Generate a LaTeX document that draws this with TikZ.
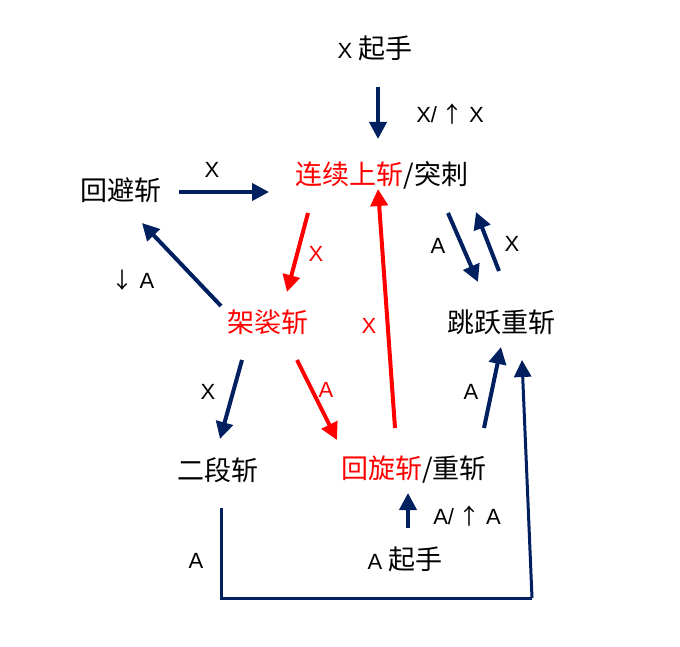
\documentclass[tikz,border=0pt]{standalone}
\usepackage{fontspec}
\setmainfont{Liberation Sans}
\newfontfamily\cjk{Noto Sans CJK SC}
\usetikzlibrary{arrows.meta}
\definecolor{navy}{RGB}{0,32,96}
\definecolor{myred}{RGB}{255,0,0}
\newcommand{\zhs}{\cjk\fontsize{27}{30}\selectfont}
\newcommand{\uparr}{{\cjk\fontsize{22}{24}\selectfont\kern-4pt↑\kern-4pt}}
\newcommand{\dnarr}{{\cjk\fontsize{22}{24}\selectfont\kern-4pt↓\kern-4pt}}
\begin{document}
\begin{tikzpicture}[x=1pt,y=-1pt,
  zh/.style={inner sep=0pt,font=\zhs},
  lat/.style={inner sep=0pt,font=\fontsize{22}{24}\selectfont},
  arr/.style={line width=4pt,-{Triangle[length=17pt,width=17pt]}},
  nv/.style={arr,draw=navy,fill=navy},
  rd/.style={arr,draw=myred,fill=myred},
  thin/.style={line width=3pt,draw=navy}]
\useasboundingbox (0,0) rectangle (680,647);
% text nodes
\node[lat] (xstart) at (375,48) {X {\zhs 起手}};
\node[zh] (lxsc) at (382,175) {\textcolor{myred}{连续上斩}/突刺};
\node[zh] (hbz) at (121,190) {回避斩};
\node[zh,text=myred] (jsz) at (268,322) {架裟斩};
\node[zh] (tyzz) at (501,322) {跳跃重斩};
\node[zh] (edz) at (218,470) {二段斩};
\node[zh] (hxz) at (414,470) {\textcolor{myred}{回旋斩}/重斩};
\node[lat] (astart) at (405,559) {A {\zhs 起手}};
% labels
\node[lat] (l1) at (450,114) {X/\hspace{8pt}\uparr\hspace{10pt}X};
\node[lat] (l2) at (212,170) {X};
\node[lat,text=myred] (l3) at (316,254) {X};
\node[lat] (l4) at (135,280) {\dnarr\hspace{10pt}A};
\node[lat,text=myred] (l5) at (369,326) {X};
\node[lat] (l6) at (438,246) {A};
\node[lat] (l7) at (512,244) {X};
\node[lat] (l8) at (208,392) {X};
\node[lat,text=myred] (l9) at (326,390) {A};
\node[lat] (l10) at (471,392) {A};
\node[lat] (l11) at (467,516) {A/\hspace{8pt}\uparr\hspace{10pt}A};
\node[lat] (l12) at (196,561) {A};
% connector end points
\coordinate (a1s) at (378,87);   \coordinate (a1e) at (378,139);
\coordinate (a2s) at (179,192);  \coordinate (a2e) at (269,192);
\coordinate (a3s) at (308,213);  \coordinate (a3e) at (287,292);
\coordinate (a4s) at (221,306);  \coordinate (a4e) at (142,223);
\coordinate (a5s) at (395,428);  \coordinate (a5e) at (378,189);
\coordinate (a6s) at (448,213);  \coordinate (a6e) at (478,282);
\coordinate (a7s) at (499,271);  \coordinate (a7e) at (476,212);
\coordinate (a8s) at (242,360);  \coordinate (a8e) at (220,439);
\coordinate (a9s) at (297,360);  \coordinate (a9e) at (337,440);
\coordinate (a10s) at (484,428); \coordinate (a10e) at (501,347);
\coordinate (a11s) at (408,528); \coordinate (a11e) at (408,493);
\coordinate (p1) at (221,508); \coordinate (p2) at (221,598);
\coordinate (p3) at (532,598); \coordinate (p4) at (522,360);
% connectors
\draw[nv] (a1s) -- (a1e);
\draw[nv] (a2s) -- (a2e);
\draw[rd] (a3s) -- (a3e);
\draw[nv] (a4s) -- (a4e);
\draw[rd] (a5s) -- (a5e);
\draw[nv] (a6s) -- (a6e);
\draw[nv] (a7s) -- (a7e);
\draw[nv] (a8s) -- (a8e);
\draw[rd] (a9s) -- (a9e);
\draw[nv] (a10s) -- (a10e);
\draw[nv] (a11s) -- (a11e);
\draw[thin] (p1) -- (p2) -- (p3);
\draw[nv,line width=3pt] (p3) -- (p4);
\end{tikzpicture}
\end{document}
